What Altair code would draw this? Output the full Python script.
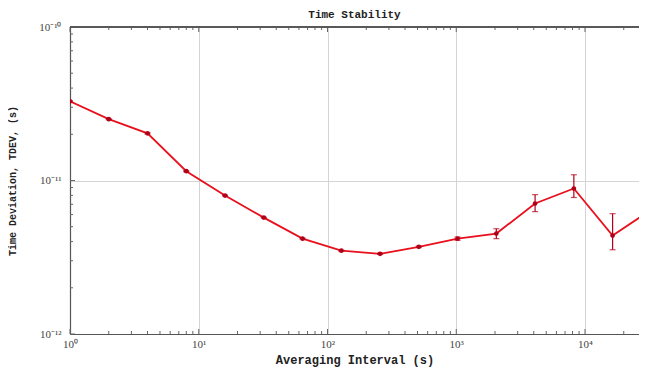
import altair as alt
import pandas as pd

# ---- data ----
tau = [1, 2, 4, 8, 16, 32, 64, 128, 256, 512, 1024, 2048, 4096, 8192, 16384, 32768]
tdev = [3.28e-11, 2.51e-11, 2.03e-11, 1.15e-11, 7.98e-12, 5.73e-12, 4.18e-12, 3.49e-12,
        3.33e-12, 3.70e-12, 4.18e-12, 4.51e-12, 7.08e-12, 8.87e-12, 4.38e-12, 6.46e-12]
err_lo = [3.25e-11, 2.49e-11, 2.01e-11, 1.14e-11, 7.92e-12, 5.69e-12, 4.15e-12, 3.46e-12,
          3.30e-12, 3.66e-12, 4.08e-12, 4.18e-12, 6.27e-12, 7.75e-12, 3.54e-12, 5.3e-12]
err_hi = [3.31e-11, 2.53e-11, 2.05e-11, 1.16e-11, 8.04e-12, 5.77e-12, 4.21e-12, 3.52e-12,
          3.36e-12, 3.74e-12, 4.28e-12, 4.85e-12, 8.09e-12, 1.09e-11, 6.08e-12, 7.8e-12]

x_major = [1, 10, 100, 1000, 10000]
y_major = [1e-12, 1e-11, 1e-10]

W, H = 569, 307
X_MAX = 10 ** (W / 128.75)
x_minor = [m * d for d in [1, 10, 100, 1000, 10000] for m in range(2, 10) if m * d < X_MAX]
y_minor = [m * d for d in [1e-12, 1e-11] for m in range(2, 10)]

df = pd.DataFrame({"tau": tau, "tdev": tdev, "lo": err_lo, "hi": err_hi})

xlab_expr = ("datum.value >= 10000 ? '10⁴' : datum.value >= 1000 ? '10³' : "
             "datum.value >= 100 ? '10²' : datum.value >= 10 ? '10¹' : '10⁰'")
ylab_expr = "datum.value < 5e-12 ? '10⁻¹²' : (datum.value < 5e-11 ? '10⁻¹¹' : '10⁻¹⁰')"

xscale = alt.Scale(type="log", domain=[1, X_MAX], nice=False)
yscale = alt.Scale(type="log", domain=[1e-12, 1e-10], nice=False)

RED = "#e8101c"
DARK = "#b00018"

x_axis = alt.Axis(values=x_major, labelExpr=xlab_expr,
                  grid=True, gridColor="#d4d4d4", gridWidth=1, ticks=False,
                  domain=True, domainColor="#555555", domainWidth=1.2,
                  labelFont="Liberation Serif", labelFontSize=11, labelColor="#444444",
                  labelPadding=4, labelFlush=False,
                  title="Averaging Interval (s)", titleFont="Liberation Mono",
                  titleFontSize=12, titleFontWeight="bold", titleColor="#222222",
                  titlePadding=5)
y_axis = alt.Axis(values=y_major, labelExpr=ylab_expr,
                  grid=True, gridColor="#d4d4d4", gridWidth=1, ticks=False,
                  domain=True, domainColor="#555555", domainWidth=1.2,
                  labelFont="Liberation Serif", labelFontSize=11, labelColor="#444444",
                  labelPadding=9,
                  title="Time Deviation, TDEV, (s)", titleFont="Liberation Mono",
                  titleFontSize=10, titleFontWeight="bold", titleColor="#222222",
                  titleX=-58, titleY=H / 2, titleAngle=-90, titleBaseline="middle",
                  titleAlign="center")

base = alt.Chart(df)

line = base.mark_line(color=RED, strokeWidth=1.8, clip=True).encode(
    x=alt.X("tau:Q", scale=xscale, axis=x_axis),
    y=alt.Y("tdev:Q", scale=yscale, axis=y_axis),
)
pts = base.mark_circle(color=DARK, opacity=1, size=22, clip=True).encode(
    x=alt.X("tau:Q", scale=xscale), y=alt.Y("tdev:Q", scale=yscale))
err = base.mark_rule(color=DARK, strokeWidth=1.2, clip=True).encode(
    x=alt.X("tau:Q", scale=xscale), y=alt.Y("lo:Q", scale=yscale), y2="hi:Q")
cap_lo = base.mark_tick(color=DARK, thickness=1.2, size=6, orient="horizontal", clip=True).encode(
    x=alt.X("tau:Q", scale=xscale), y=alt.Y("lo:Q", scale=yscale))
cap_hi = base.mark_tick(color=DARK, thickness=1.2, size=6, orient="horizontal", clip=True).encode(
    x=alt.X("tau:Q", scale=xscale), y=alt.Y("hi:Q", scale=yscale))

# decorative inward ticks
xm = pd.DataFrame({"v": x_minor})
xM = pd.DataFrame({"v": x_major})
ym = pd.DataFrame({"v": y_minor})
yM = pd.DataFrame({"v": y_major})

def xticks(d, length, color="#666666"):
    b = alt.Chart(d).mark_rule(color=color, strokeWidth=1)
    bot = b.encode(x=alt.X("v:Q", scale=xscale), y=alt.value(H), y2=alt.value(H - length))
    top = b.encode(x=alt.X("v:Q", scale=xscale), y=alt.value(0), y2=alt.value(length))
    return bot + top

def yticks(d, length, color="#666666"):
    b = alt.Chart(d).mark_rule(color=color, strokeWidth=1)
    return b.encode(y=alt.Y("v:Q", scale=yscale), x=alt.value(0), x2=alt.value(length))

top_line = alt.Chart(xM).mark_rule(color="#555555", strokeWidth=1.2).encode(
    x=alt.value(0), x2=alt.value(W), y=alt.value(0))

chart = alt.layer(
    line, xticks(xm, 3), xticks(xM, 5), yticks(ym, 3), yticks(yM, 5), top_line,
    err, cap_lo, cap_hi, pts
).properties(
    width=W, height=H,
    title=alt.TitleParams("Time Stability", font="Liberation Mono", fontSize=11,
                          fontWeight="bold", color="#222222", offset=1),
    autosize=alt.AutoSizeParams(type="none"),
    padding={"left": 62, "top": 19, "right": 0, "bottom": 33},
).configure_view(stroke=None).configure(background="white")

chart.save("out.html", embed_options={"renderer": "svg", "actions": False})
